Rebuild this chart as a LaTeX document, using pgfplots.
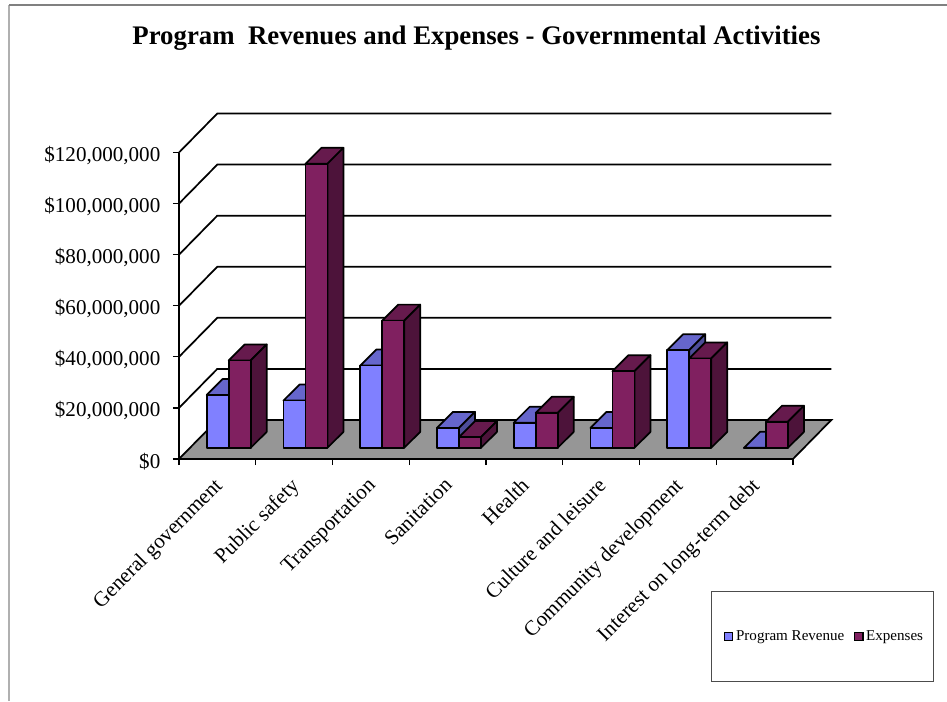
\documentclass[border=0pt]{standalone}
\usepackage{fontspec}
\setmainfont{Liberation Serif}
\usepackage{pgfplots}
\pgfplotsset{compat=1.18}

% one pixel of the reference
\newlength{\px}\setlength{\px}{0.75pt}

\definecolor{revface}{HTML}{8080FF}
\definecolor{revtop}{HTML}{6666CC}
\definecolor{revside}{HTML}{4D4D99}
\definecolor{expface}{HTML}{802060}
\definecolor{exptop}{HTML}{661A4D}
\definecolor{expside}{HTML}{4D133A}
\definecolor{floorgray}{HTML}{969696}
\definecolor{framegray}{HTML}{B0B0B0}
\definecolor{frametop}{HTML}{808080}

% oblique projection: wall depth, bar base shift, bar depth, bar width (axis units, y in millions)
\def\wallx{0.499}\def\wally{15.27}
\def\basex{0.1433}\def\basey{4.38}
\def\depx{0.2085}\def\depy{6.26}
\def\barw{0.2866}

% #1 left edge at the front plane, #2 value in millions, #3 colour prefix
\newcommand{\cuboid}[3]{%
  \pgfmathsetmacro\xa{#1+\basex}%
  \pgfmathsetmacro\xb{\xa+\barw}%
  \pgfmathsetmacro\xc{\xa+\depx}%
  \pgfmathsetmacro\xd{\xb+\depx}%
  \pgfmathsetmacro\ya{\basey}%
  \pgfmathsetmacro\yb{\basey+#2}%
  \pgfmathsetmacro\yc{\yb+\depy}%
  \pgfmathsetmacro\ye{\ya+\depy}%
  \addplot[barline,fill=#3top] coordinates {(\xa,\yb)(\xc,\yc)(\xd,\yc)(\xb,\yb)} --cycle;
  \addplot[barline,fill=#3side] coordinates {(\xb,\ya)(\xd,\ye)(\xd,\yc)(\xb,\yb)} --cycle;
  \addplot[barline,fill=#3face] coordinates {(\xa,\ya)(\xb,\ya)(\xb,\yb)(\xa,\yb)} --cycle;
}
% #1 category, #2 program revenue, #3 expenses
\newcommand{\category}[3]{%
  \pgfmathsetmacro\lefta{#1+0.2177}%
  \pgfmathsetmacro\leftb{#1+0.5043}%
  \cuboid{\lefta}{#2}{rev}
  \cuboid{\leftb}{#3}{exp}
}
% gridline running round the wall
\newcommand{\wall}[1]{%
  \pgfmathsetmacro\yw{#1+\wally}%
  \addplot[gridline] coordinates {(0,#1)(\wallx,\yw)(8.5,\yw)};
}

\pgfplotsset{
  barline/.style={black,line width=1.3pt,line join=round,forget plot},
  gridline/.style={black,line width=1.3pt,line join=miter,forget plot},
}

\begin{document}
\begin{tikzpicture}
\path[use as bounding box] (0,0) rectangle (947\px,701\px);
\fill[white] (0,0) rectangle (947\px,701\px);
\draw[framegray,line width=1.2pt] (9\px,0) -- (9\px,696\px);
\draw[frametop,line width=1pt] (9\px,696\px) -- (947\px,696\px);
\begin{axis}[
    at={(179\px,242\px)},
    anchor=south west,
    scale only axis,
    width=614\px,
    height=306.5\px,
    xmin=0, xmax=8,
    ymin=0, ymax=120,
    clip=false,
    axis lines=left,
    axis line style={-,black,line width=1.5pt},
    tick style={black,line width=0.9pt},
    tick align=outside,
    major tick length=6\px,
    minor tick length=6\px,
    ytick={0,20,40,60,80,100,120},
    yticklabels={\$0,{\$20,000,000},{\$40,000,000},{\$60,000,000},{\$80,000,000},{\$100,000,000},{\$120,000,000}},
    yticklabel style={font=\fontsize{15.8pt}{18pt}\selectfont,xshift=-8\px,yshift=-2.5\px},
    xtick={0.5,1.5,2.5,3.5,4.5,5.5,6.5,7.5},
    x tick style={draw=none},
    minor x tick style={black,line width=0.9pt,draw=black},
    minor xtick={0,1,2,3,4,5,6,7,8},
    xticklabels={General government,Public safety,Transportation,Sanitation,Health,Culture and leisure,Community development,Interest on long-term debt},
    xticklabel style={rotate=45,anchor=north east,font=\fontsize{15.8pt}{18pt}\selectfont,inner sep=0pt,xshift=-11.2\px,yshift=-4.8\px},
    title={Program\hspace{0.25em} Revenues and Expenses - Governmental Activities},
    title style={at={(rel axis cs:0.4845,1.346)},anchor=center,font=\bfseries\fontsize{20.1pt}{23pt}\selectfont},
    legend style={
        at={(rel axis cs:1.048,-0.579)},anchor=center,
        draw=black!70,line width=0.8pt,
        font=\fontsize{11.3pt}{13pt}\selectfont,
        inner xsep=6pt,inner ysep=27.4pt,
        /tikz/every even column/.append style={column sep=5pt},
    },
    legend columns=2,
]
% floor
\addplot[gridline,fill=floorgray] coordinates {(0,0)(8,0)(8.499,15.27)(0.499,15.27)} --cycle;
% walls
\wall{20}
\wall{40}
\wall{60}
\wall{80}
\wall{100}
\wall{120}

\category{0}{20.7}{34.2}
\category{1}{18.5}{111.2}
\category{2}{32.2}{49.8}
\category{3}{7.8}{4.2}
\category{4}{9.8}{13.7}
\category{5}{7.8}{30.0}
\category{6}{38.2}{35.0}
\category{7}{0}{10.2}

\addlegendimage{legend image code/.code={\path (-3.4pt,0) circle (0pt); \draw[black,line width=0.9pt,fill=revface] (0,-3.2pt) rectangle (6.4pt,3.2pt);}}
\addlegendentry{Program Revenue}
\addlegendimage{legend image code/.code={\draw[black,line width=0.9pt,fill=expface] (0,-3.2pt) rectangle (6.4pt,3.2pt);}}
\addlegendentry{Expenses}
\end{axis}
\end{tikzpicture}
\end{document}
